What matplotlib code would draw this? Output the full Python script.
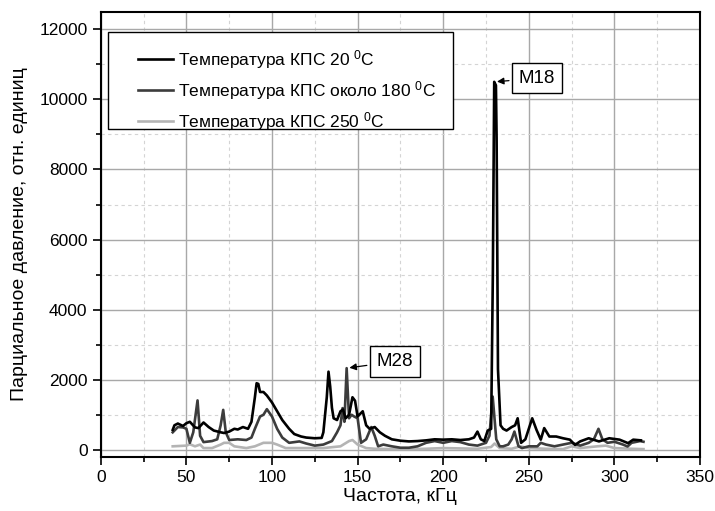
import matplotlib
matplotlib.use('Agg')
import matplotlib.pyplot as plt
from matplotlib.ticker import MultipleLocator
from matplotlib.patches import Rectangle

plt.rcParams['font.family'] = ['Liberation Sans', 'DejaVu Sans']
plt.rcParams['mathtext.fontset'] = 'custom'
plt.rcParams['mathtext.rm'] = 'Liberation Sans'
plt.rcParams['mathtext.default'] = 'regular'

# Температура КПС 20 C
x1 = [42, 43, 45, 48, 50, 52, 55, 57, 60, 63, 66, 70, 72, 75, 78, 80, 83, 86, 88, 90, 91, 92, 93,
      95, 97, 100, 103, 106, 110, 113, 117, 120, 125, 129, 130, 132, 133, 134, 135, 136, 138, 140,
      141.5, 143, 145, 147, 148.5, 150, 151, 153, 155, 157, 160, 163, 166, 170, 175, 180, 185, 190,
      195, 200, 205, 210, 215, 218, 220, 222, 224, 226, 228, 229, 229.8, 230.8, 231.2, 232, 233.5,
      235, 237, 240, 242, 243.5, 245.5, 248, 252, 254.5, 257, 259, 262, 266, 270, 274, 277, 280,
      285, 291, 297, 303, 308, 311, 315.5]
y1 = [570, 700, 750, 680, 760, 800, 640, 620, 780, 650, 550, 500, 480, 520, 600, 580, 650, 600, 800,
      1500, 1900, 1880, 1650, 1650, 1550, 1350, 1100, 850, 600, 450, 380, 350, 330, 340, 500, 1500,
      2230, 1800, 1200, 900, 850, 1100, 1150, 900, 1000, 1500, 1400, 950, 1000, 1100, 700, 600, 650,
      500, 400, 300, 260, 240, 250, 270, 300, 290, 300, 280, 300, 350, 520, 300, 250, 550, 600, 5000,
      10500, 10400, 8900, 2300, 700, 600, 550, 650, 700, 900, 200, 300, 900, 570, 290, 620, 380, 380,
      330, 290, 140, 240, 330, 240, 330, 290, 190, 290, 270]

# Температура КПС около 180 C
x2 = [42, 45, 48, 50, 52, 54, 56.5, 58, 60, 65, 68, 70, 71.5, 73, 75, 80, 85, 88, 90, 93, 95, 97,
      100, 103, 106, 110, 116, 120, 125, 130, 135, 138, 140, 141.2, 142.3, 143.6, 145, 146.5, 148,
      150, 152, 155, 158, 160, 162, 165, 170, 175, 180, 185, 190, 195, 200, 205, 210, 215, 220,
      225, 227, 228.9, 231, 233, 235, 238, 240, 241.6, 244, 246, 250, 255, 257, 260, 265, 270, 275,
      280, 285, 288, 290.7, 293, 296, 300, 305, 307.7, 310, 315, 317]
y2 = [500, 650, 640, 600, 200, 500, 1410, 400, 220, 250, 300, 700, 1140, 500, 280, 300, 280, 350, 600,
      950, 1000, 1160, 950, 600, 350, 200, 240, 180, 120, 150, 250, 500, 700, 1190, 800, 2330, 900,
      1000, 950, 900, 200, 300, 650, 400, 100, 150, 100, 60, 60, 100, 200, 250, 200, 250, 220, 150, 120,
      200, 400, 1520, 300, 100, 100, 150, 300, 520, 100, 50, 100, 100, 200, 150, 100, 150, 200, 120,
      200, 300, 600, 300, 200, 230, 150, 95, 200, 250, 230]

# Температура КПС 250 C
x3 = [42, 46, 50, 52, 55, 58, 60, 65, 70, 72, 75, 78, 85, 90, 95, 100, 103, 108, 115, 120, 130, 140,
      145, 147, 150, 155, 160, 170, 180, 190, 200, 210, 220, 228, 230, 233, 240, 245, 250, 260, 270,
      275, 280, 290, 295, 300, 310, 317]
y3 = [100, 110, 120, 160, 100, 150, 50, 50, 150, 200, 200, 100, 50, 100, 200, 200, 150, 50, 50, 50, 50,
      100, 250, 280, 150, 50, 30, 20, 20, 30, 50, 40, 30, 80, 180, 50, 30, 100, 50, 30, 20, 100, 50,
      100, 120, 50, 30, 20]

labels = ['Температура КПС 20 $^{0}$C', 'Температура КПС около 180 $^{0}$C', 'Температура КПС 250 $^{0}$C']
colors = ['#000000', '#3c3c3c', '#b4b4b4']

fig = plt.figure(figsize=(7.15, 5.11), dpi=100)
ax = fig.add_axes([0.141, 0.106, 0.838, 0.871])

ax.plot(x1, y1, color=colors[0], lw=1.9, label=labels[0], zorder=4)
ax.plot(x2, y2, color=colors[1], lw=1.9, label=labels[1], zorder=3)
ax.plot(x3, y3, color=colors[2], lw=1.9, label=labels[2], zorder=2)

ax.set_xlim(0, 350)
ax.set_ylim(-200, 12500)
ax.xaxis.set_major_locator(MultipleLocator(50))
ax.xaxis.set_minor_locator(MultipleLocator(25))
ax.yaxis.set_major_locator(MultipleLocator(2000))
ax.yaxis.set_minor_locator(MultipleLocator(1000))

ax.grid(which='major', color='#a8a8a8', lw=1.0, ls='-', zorder=0)
ax.grid(which='minor', color='#d4d4d4', lw=0.8, ls=(0, (3, 3)), zorder=0)
ax.set_axisbelow(True)

ax.tick_params(which='major', direction='out', length=6, width=1.2, labelsize=12.5)
ax.tick_params(which='minor', direction='out', length=3.5, width=1.2)
for s in ax.spines.values():
    s.set_linewidth(1.5)

ax.set_xlabel('Частота, кГц', fontsize=14, labelpad=2)
ax.set_ylabel('Парциальное давление, отн. единиц', fontsize=14, labelpad=8)

# рамка легенды отдельно, как в оригинале (сверху больше места)
frame = Rectangle((0.0117, 0.737), 0.576, 0.218, transform=ax.transAxes, fc='white',
                  ec='black', lw=1.0, zorder=5)
ax.add_patch(frame)
leg = ax.legend(loc='upper left', bbox_to_anchor=(0.062, 0.918), fontsize=12.5, frameon=False,
                handlelength=2.0, handletextpad=0.3, labelspacing=0.45,
                borderpad=0, borderaxespad=0)
leg.set_zorder(6)

box = dict(boxstyle='square,pad=0.35', fc='white', ec='black', lw=1.0)
arr = dict(arrowstyle='-|>', color='black', lw=0.9, mutation_scale=10)
ax.annotate('M18', xy=(229.8, 10500), xytext=(254.8, 10600), fontsize=13.5,
            ha='center', va='center', bbox=box, arrowprops=arr, zorder=6)
ax.annotate('M28', xy=(143.6, 2330), xytext=(171.8, 2520), fontsize=13.5,
            ha='center', va='center', bbox=box, arrowprops=arr, zorder=6)

plt.savefig('out.png', dpi=100)
